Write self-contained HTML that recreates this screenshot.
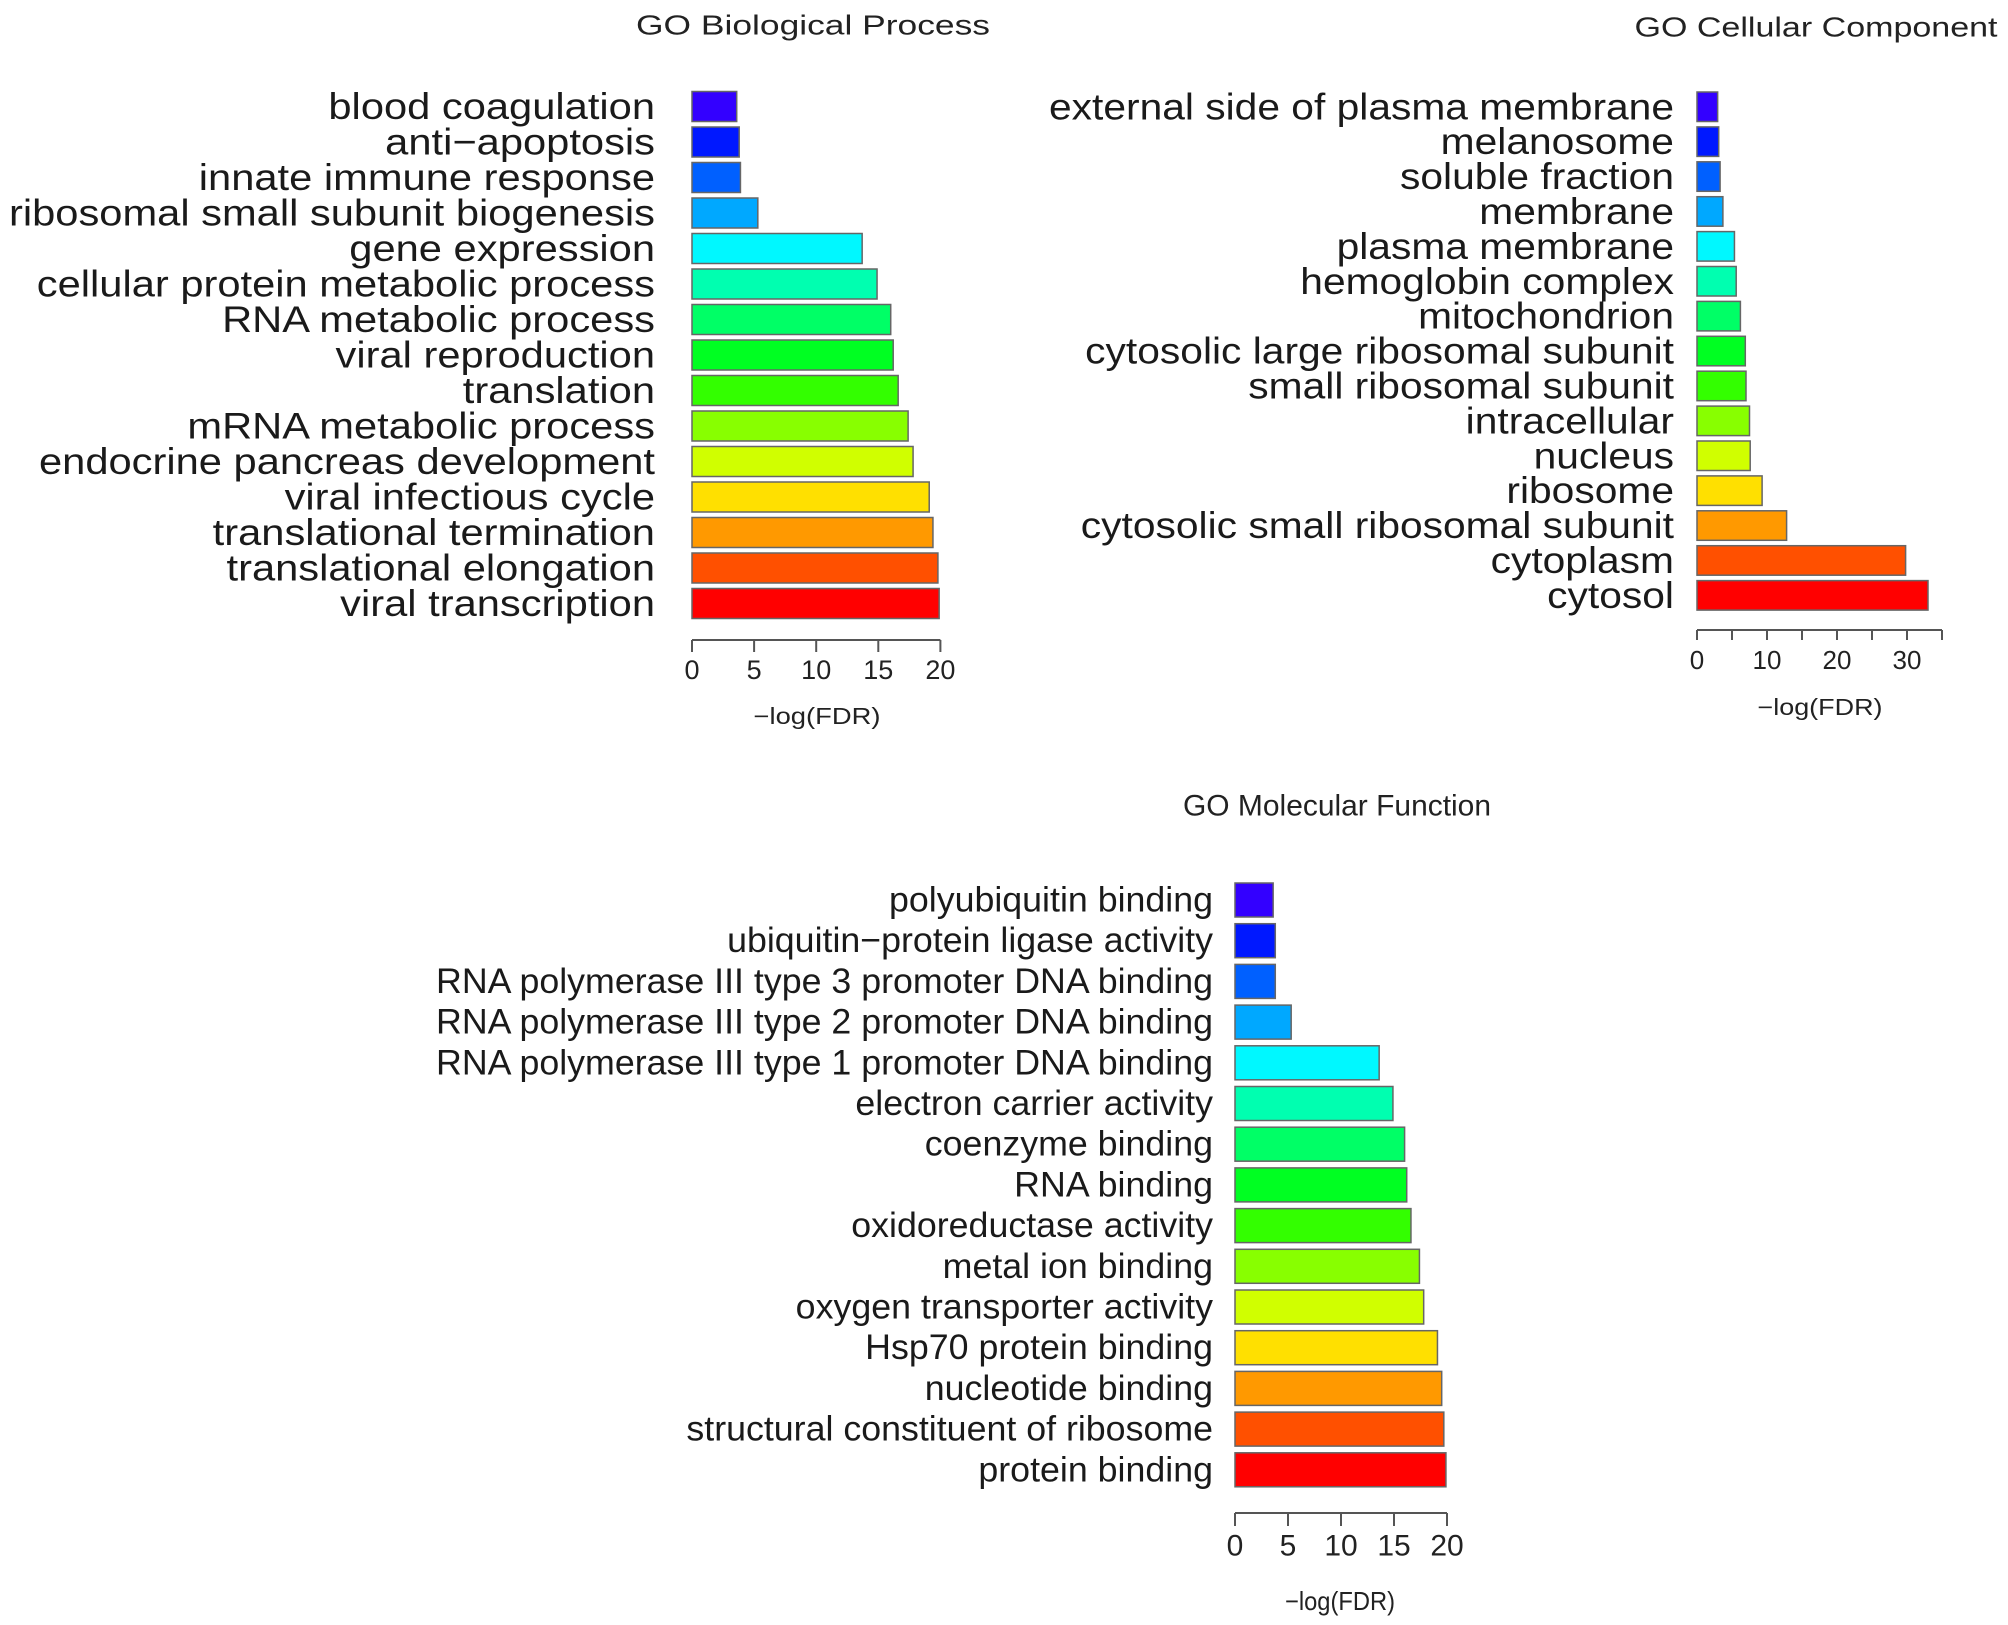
<!DOCTYPE html>
<html><head><meta charset="utf-8"><style>
html,body{margin:0;padding:0;background:#fff;}
svg{display:block;font-family:"Liberation Sans",sans-serif;}
</style></head><body>
<svg id="fig" width="2008" height="1625" viewBox="0 0 2008 1625" xmlns="http://www.w3.org/2000/svg"></svg>
<script>
const colors = ["#3300ff","#0018ff","#0060ff","#00a8ff","#00f8ff","#00ffb0","#00ff66","#00ff22","#33ff00","#88ff00","#d0ff00","#ffe000","#ff9900","#ff5000","#ff0000"];

const bpCategories = ["blood coagulation","anti\u2212apoptosis","innate immune response","ribosomal small subunit biogenesis","gene expression","cellular protein metabolic process","RNA metabolic process","viral reproduction","translation","mRNA metabolic process","endocrine pancreas development","viral infectious cycle","translational termination","translational elongation","viral transcription"];
const bpValues = [3.6,3.8,3.9,5.3,13.7,14.9,16.0,16.2,16.6,17.4,17.8,19.1,19.4,19.8,19.9];
const bpTicks = [0,5,10,15,20];
const bpTickLabels = ["0","5","10","15","20"];

const ccCategories = ["external side of plasma membrane","melanosome","soluble fraction","membrane","plasma membrane","hemoglobin complex","mitochondrion","cytosolic large ribosomal subunit","small ribosomal subunit","intracellular","nucleus","ribosome","cytosolic small ribosomal subunit","cytoplasm","cytosol"];
const ccValues = [2.95,3.1,3.3,3.7,5.35,5.6,6.2,6.9,7.0,7.5,7.6,9.3,12.8,29.8,33.0];
const ccTicks = [0,5,10,15,20,25,30,35];
const ccTickLabels = ["0","","10","","20","","30",""];

const mfCategories = ["polyubiquitin binding","ubiquitin\u2212protein ligase activity","RNA polymerase III type 3 promoter DNA binding","RNA polymerase III type 2 promoter DNA binding","RNA polymerase III type 1 promoter DNA binding","electron carrier activity","coenzyme binding","RNA binding","oxidoreductase activity","metal ion binding","oxygen transporter activity","Hsp70 protein binding","nucleotide binding","structural constituent of ribosome","protein binding"];
const mfValues = [3.6,3.8,3.8,5.3,13.6,14.9,16.0,16.2,16.6,17.4,17.8,19.1,19.5,19.7,19.9];
const mfTicks = [0,5,10,15,20];
const mfTickLabels = ["0","5","10","15","20"];

const NS = "http://www.w3.org/2000/svg";
const svg = document.getElementById("fig");
function mk(tag, attrs, parent){ const e=document.createElementNS(NS,tag); for(const k in attrs) e.setAttribute(k,attrs[k]); (parent||svg).appendChild(e); return e; }

function drawChart(cats, vals, ticks, tickLabels, L){
  const g = mk("g",{});
  
  
  const xs = v => L.x0 + v*L.unit;
  const title = mk("text",{x:L.titleX,y:L.titleY,"font-size":L.titleFont,"text-anchor":"middle","dominant-baseline":"central",fill:"#222",textLength:L.titleW,lengthAdjust:"spacingAndGlyphs"},g);
  title.textContent = L.title;
  
  
  const labels=[];
  cats.forEach((c,i)=>{
    const yTop = L.y0 + i*L.pitch;
    const r = mk("rect",{x:xs(0),y:yTop,width:xs(vals[i])-xs(0),height:L.barH,fill:colors[i],stroke:"#666","stroke-width":1.5},g);
    
    
    const t = mk("text",{x:L.labelRight,y:yTop+L.barH/2,"font-size":L.labelFont,"text-anchor":"end","dominant-baseline":"central",fill:"#1a1a1a"},g);
    t.textContent = c;
    
    
    labels.push(t);
  });
  let maxW = 0; labels.forEach(t=>{ maxW=Math.max(maxW,t.getComputedTextLength()); });
  const s = L.maxLabelW / maxW;
  labels.forEach(t=>{ const w=t.getComputedTextLength(); t.setAttribute("textLength",(w*s).toFixed(1)); t.setAttribute("lengthAdjust","spacingAndGlyphs"); });
  const ax = mk("line",{x1:xs(ticks[0]),x2:xs(ticks[ticks.length-1]),y1:L.axisY,y2:L.axisY,stroke:"#555","stroke-width":2},g);
  
  
  ticks.forEach((tv,i)=>{
    const tk = mk("line",{x1:xs(tv),x2:xs(tv),y1:L.axisY,y2:L.axisY+L.tickLen,stroke:"#555","stroke-width":2},g);
    
    
    if(tickLabels[i]){
      const tl = mk("text",{x:xs(tv),y:L.tickLabelY,"font-size":L.tickFont,"text-anchor":"middle","dominant-baseline":"central",fill:"#222"},g);
      tl.textContent = tickLabels[i];
      
      
    }
  });
  const at = mk("text",{x:L.axisTitleX,y:L.axisTitleY,"font-size":L.axisTitleFont,"text-anchor":"middle","dominant-baseline":"central",fill:"#222",textLength:L.axisTitleW,lengthAdjust:"spacingAndGlyphs"},g);
  at.textContent = "\u2212log(FDR)";
  
  
}

drawChart(bpCategories,bpValues,bpTicks,bpTickLabels,{name:"go-biological-process-chart",
  x0:692,unit:12.42,y0:91.5,pitch:35.5,barH:30,labelRight:655,labelFont:37,maxLabelW:646,
  axisY:640,tickLen:12,tickLabelY:670,tickFont:27,axisTitleX:817,axisTitleY:716,axisTitleFont:23,axisTitleW:127,
  title:"GO Biological Process",titleX:813,titleY:25,titleFont:28,titleW:354});

drawChart(ccCategories,ccValues,ccTicks,ccTickLabels,{name:"go-cellular-component-chart",
  x0:1697,unit:7.0,y0:92,pitch:34.9,barH:29.5,labelRight:1674,labelFont:37,maxLabelW:625,
  axisY:630,tickLen:10,tickLabelY:660,tickFont:26,axisTitleX:1820,axisTitleY:707,axisTitleFont:23,axisTitleW:125,
  title:"GO Cellular Component",titleX:1816,titleY:27,titleFont:28,titleW:363});

drawChart(mfCategories,mfValues,mfTicks,mfTickLabels,{name:"go-molecular-function-chart",
  x0:1235,unit:10.6,y0:883,pitch:40.7,barH:34,labelRight:1213,labelFont:35,maxLabelW:777,
  axisY:1513,tickLen:13,tickLabelY:1546,tickFont:30,axisTitleX:1340,axisTitleY:1601,axisTitleFont:26,axisTitleW:110,
  title:"GO Molecular Function",titleX:1337,titleY:806,titleFont:30,titleW:308});
</script>
</body></html>
